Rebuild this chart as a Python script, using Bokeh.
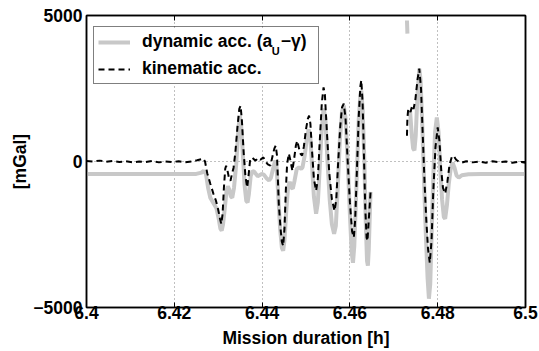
import math
from bokeh.plotting import figure
from bokeh.models import (Range1d, FixedTicker, LinearAxis, CustomJSTickFormatter,
                          CustomLabelingPolicy, Legend, LegendItem, Label, BoxAnnotation)
from bokeh.embed import file_html
from bokeh.resources import INLINE

nan = float("nan")

# ---- data ----
x_ticks = [6.40, 6.42, 6.44, 6.46, 6.48, 6.50]
y_ticks = [-5000, 0, 5000]
x_grid = [6.42, 6.44, 6.46, 6.48]
y_grid = [0]

# dynamic acceleration (a_U - gamma), mGal
dyn_t = [6.4000, 6.4100, 6.4200, 6.4250, 6.4262, 6.4267, 6.4272, 6.4277, 6.4282, 6.4290,
         6.4296, 6.4301, 6.4305, 6.4308, 6.4311, 6.4315, 6.4319, 6.4322, 6.4325, 6.4329,
         6.4332, 6.4336, 6.4341, 6.4346, 6.4349, 6.4352, 6.4356, 6.4360, 6.4364, 6.4367,
         6.4370, 6.4374, 6.4378, 6.4382, 6.4386, 6.4390, 6.4394, 6.4399, 6.4404, 6.4410,
         6.4416, 6.4420, 6.4425, 6.4430, 6.4433, 6.4437, 6.4441, 6.4445, 6.4448, 6.4451,
         6.4455, 6.4459, 6.4463, 6.4467, 6.4470, 6.4474, 6.4479, 6.4484, 6.4489, 6.4492,
         6.4497, 6.4502, 6.4506, 6.4510, 6.4514, 6.4518, 6.4523, 6.4527, 6.4531, 6.4535,
         6.4540, 6.4544, 6.4549, 6.4554, 6.4559, 6.4564, 6.4568, 6.4572, 6.4577, 6.4582,
         6.4586, 6.4590, 6.4595, 6.4600, 6.4604, 6.4607, 6.4610, 6.4615, 6.4620, 6.4624,
         6.4626, 6.4629, 6.4633, 6.4636, 6.4639, 6.4641, 6.4643, 6.4645, 6.4647, nan,
         6.4730, 6.4731, nan,
         6.4737, 6.4741, 6.4744, 6.4747, 6.4750, 6.4754, 6.4758, 6.4761, 6.4765, 6.4769,
         6.4773, 6.4777, 6.4780, 6.4783, 6.4786, 6.4790, 6.4794, 6.4798, 6.4802, 6.4806,
         6.4810, 6.4814, 6.4817, 6.4821, 6.4825, 6.4830, 6.4834, 6.4838, 6.4843, 6.4848,
         6.4855, 6.4870, 6.4900, 6.5000]
dyn_v = [-430, -430, -430, -425, -380, -320, -420, -900, -1240, -1450,
         -1600, -1950, -2300, -2370, -2150, -1600, -1000, -850, -950, -1200,
         -1240, -900, -100, 1100, 1570, 1300, 300, -800, -1350, -1400,
         -1100, -500, -330, -350, -430, -500, -470, -430, -450, -570,
         -650, -560, -250, 30, -200, -1200, -2300, -2950, -3060, -2700,
         -1700, -900, -700, -900, -930, -650, -250, -200, -250, -200,
         200, 800, 1100, 800, -200, -1200, -1790, -1400, -300, 900,
         1810, 1500, 0, -1300, -2150, -2480, -2200, -1000, 700, 1700,
         1920, 1500, 0, -1800, -3100, -3470, -2900, -800, 1400, 2300,
         2430, 1800, 0, -2000, -3400, -3570, -3000, -2000, -1040, nan,
         4830, 4380, nan,
         1740, 900, 450, 380, 900, 2300, 3180, 2800, 1200, -700,
         -2500, -4000, -4700, -4200, -2600, -500, 1000, 1510, 1000, -300,
         -1300, -1900, -1960, -1500, -800, -200, -40, -200, -480, -550,
         -470, -440, -430, -430]

# kinematic acceleration, mGal
kin_t = [6.4000, 6.4015, 6.4030, 6.4045, 6.4060, 6.4075, 6.4090, 6.4105, 6.4120, 6.4135,
         6.4150, 6.4165, 6.4180, 6.4195, 6.4210, 6.4225, 6.4240, 6.4252, 6.4262, 6.4266,
         6.4270, 6.4275, 6.4282, 6.4289, 6.4295, 6.4300, 6.4304, 6.4307, 6.4310, 6.4313,
         6.4316, 6.4318, 6.4321, 6.4325, 6.4328, 6.4331, 6.4335, 6.4339, 6.4344, 6.4348,
         6.4351, 6.4354, 6.4358, 6.4362, 6.4366, 6.4369, 6.4373, 6.4378, 6.4385, 6.4391,
         6.4396, 6.4403, 6.4408, 6.4413, 6.4419, 6.4424, 6.4428, 6.4431, 6.4434, 6.4438,
         6.4442, 6.4445, 6.4448, 6.4451, 6.4454, 6.4457, 6.4461, 6.4465, 6.4469, 6.4473,
         6.4477, 6.4480, 6.4484, 6.4488, 6.4491, 6.4495, 6.4500, 6.4504, 6.4507, 6.4510,
         6.4514, 6.4518, 6.4523, 6.4527, 6.4531, 6.4536, 6.4540, 6.4543, 6.4548, 6.4553,
         6.4559, 6.4565, 6.4569, 6.4573, 6.4578, 6.4582, 6.4586, 6.4590, 6.4595, 6.4600,
         6.4605, 6.4609, 6.4612, 6.4616, 6.4620, 6.4624, 6.4626, 6.4629, 6.4632, 6.4635,
         6.4638, 6.4640, 6.4643, 6.4647, nan,
         6.4730, 6.4731, 6.4733, 6.4738, 6.4742, 6.4745, 6.4749, 6.4754, 6.4758, 6.4762,
         6.4766, 6.4770, 6.4774, 6.4778, 6.4782, 6.4786, 6.4790, 6.4795, 6.4800, 6.4804,
         6.4808, 6.4812, 6.4817, 6.4822, 6.4827, 6.4832, 6.4836, 6.4842, 6.4848, 6.4855,
         6.4865, 6.4880, 6.4895, 6.4910, 6.4925, 6.4940, 6.4955, 6.4970, 6.4985, 6.5000]
kin_v = [20, 0, 30, -10, 20, -20, 10, -30, 0, -20,
         20, -30, 0, -20, 10, -30, 0, 40, 80, 100,
         0, -400, -760, -1100, -1350, -1650, -1950, -2140, -1800, -900,
         -250, -150, -300, -600, -660, -450, -210, 300, 1200, 1800,
         1910, 1400, 300, -500, -890, -500, 100, 120, 30, 120,
         60, 140, 0, -100, -140, 200, 450, 540, 200, -1450,
         -2300, -2750, -2890, -2300, -1000, -80, 270, 0, -320, 100,
         550, 710, 450, 250, 200, 500, 1100, 1450, 1570, 1300,
         300, -600, -1000, -600, 600, 2000, 2540, 2300, 900, -400,
         -1300, -1690, -1300, -100, 1200, 1850, 1980, 1500, 0, -1400,
         -2400, -2600, -2000, -300, 1500, 2600, 2780, 2000, 200, -1600,
         -2600, -2720, -2000, -1060, nan,
         880, 1500, 1810, 1700, 1910, 1800, 2100, 2800, 3180, 2500,
         900, -700, -2000, -3000, -3470, -2700, -1000, 500, 1170, 700,
         -300, -900, -1100, -700, -100, 150, 200, 60, 0, -40,
         10, -30, 0, -40, 10, -30, 0, -40, -10, -40]

FONT = "Liberation Sans"
FS = "17.5px"

p = figure(width=539, height=351, output_backend="svg", toolbar_location=None,
           x_range=Range1d(6.4, 6.5), y_range=Range1d(-5000, 5000),
           min_border_left=86, min_border_right=14, min_border_top=15, min_border_bottom=44,
           background_fill_color="white", border_fill_color="white")
p.outline_line_color = "black"
p.outline_line_width = 1.5

r_dyn = p.line(dyn_t, dyn_v, line_color="#c8c8c8", line_width=4)
r_kin = p.line(kin_t, kin_v, line_color="black", line_width=2, line_dash="6 4")

xfmt = CustomJSTickFormatter(code="""
var s = tick.toFixed(2).replace(/0+$/, '').replace(/\\.$/, '');
return s;""")
yfmt = CustomJSTickFormatter(code="""
return tick < 0 ? '\\u2212' + Math.abs(tick) : String(tick);""")

for ax in p.xaxis:
    ax.ticker = FixedTicker(ticks=x_ticks)
    ax.formatter = xfmt
    ax.axis_label = "Mission duration [h]"
    ax.major_label_standoff = -2
    ax.axis_label_standoff = 6
    ax.axis_label_text_baseline = "alphabetic"
for ax in p.yaxis:
    ax.ticker = FixedTicker(ticks=y_ticks)
    ax.formatter = yfmt
    ax.axis_label = "[mGal]"
    ax.major_label_standoff = 4
    ax.axis_label_standoff = 0

for ax in list(p.xaxis) + list(p.yaxis):
    ax.major_tick_in = 5
    ax.major_tick_out = 0
    ax.minor_tick_line_color = None
    ax.axis_line_color = "black"
    ax.axis_line_width = 1.5
    ax.major_tick_line_color = "black"
    ax.major_label_text_font = FONT
    ax.major_label_text_font_style = "bold"
    ax.major_label_text_font_size = FS
    ax.major_label_text_color = "black"
    ax.axis_label_text_font = FONT
    ax.axis_label_text_font_style = "bold"
    ax.axis_label_text_font_size = FS
    ax.axis_label_text_color = "black"

no_labels = CustomLabelingPolicy(code="""
for (const i of indices) { indices.unset(i) }
return indices
""")
top_ax = LinearAxis(ticker=FixedTicker(ticks=x_ticks), major_label_policy=no_labels,
                    major_label_text_font_size="0px",
                    major_label_standoff=0, major_tick_in=5, major_tick_out=0,
                    minor_tick_line_color=None, axis_line_color="black", axis_line_width=1.5)
right_ax = LinearAxis(ticker=FixedTicker(ticks=y_ticks), major_label_policy=no_labels,
                      major_label_text_font_size="0px",
                      major_label_standoff=0, major_tick_in=5, major_tick_out=0,
                      minor_tick_line_color=None, axis_line_color="black", axis_line_width=1.5)
p.add_layout(top_ax, "above")
p.add_layout(right_ax, "right")

p.xgrid.ticker = FixedTicker(ticks=x_grid)
p.ygrid.ticker = FixedTicker(ticks=y_grid)
for g in (p.xgrid, p.ygrid):
    g.grid_line_color = "#808080"
    g.grid_line_dash = "1 3"
    g.grid_line_width = 1

# white patch behind the legend so that the grid does not show through it
p.add_layout(BoxAnnotation(left=6.4016, right=6.4521, top=4540, bottom=2600,
                           fill_color="white", fill_alpha=1.0, line_color=None,
                           level="glyph"))

legend = Legend(items=[LegendItem(label="dynamic acc. (a \u2009\u2212\u03b3)", renderers=[r_dyn]),
                       LegendItem(label="kinematic acc.", renderers=[r_kin])],
                location=(7, 223), padding=4, spacing=6, margin=0,
                glyph_width=32, glyph_height=20, label_height=20, label_width=172,
                label_standoff=12,
                label_text_font=FONT, label_text_font_style="bold",
                label_text_font_size=FS, label_text_color="black",
                border_line_color="black", border_line_width=1,
                background_fill_alpha=0.0)
p.add_layout(legend)

sub = Label(x=6.44221, y=3800, text="U", text_font=FONT, text_font_style="bold",
            text_font_size="11px", text_color="black", text_baseline="alphabetic",
            text_align="left", level="overlay")
p.add_layout(sub)

open("out.html", "w").write(file_html(p, INLINE))
